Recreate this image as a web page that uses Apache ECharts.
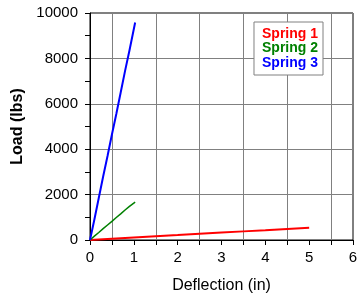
<!DOCTYPE html>
<html><head><meta charset="utf-8">
<script src="https://cdn.jsdelivr.net/npm/echarts@6/dist/echarts.min.js"></script>
<style>html,body{margin:0;padding:0;background:#fff}#c{width:363px;height:298px}</style>
</head><body><div id="c"></div>
<script>
var seriesNames = ['Spring 1', 'Spring 2', 'Spring 3'];
var seriesColors = ['#ff0000', '#008000', '#0000ff'];
var spring1X = [0, 0.5, 1, 1.5, 2, 2.5, 3, 3.5, 4, 4.5, 5];
var spring1Y = [0, 55, 110, 165, 215, 270, 325, 380, 430, 490, 545];
var spring2X = [0, 0.1, 0.2, 0.3, 0.4, 0.5, 0.6, 0.7, 0.8, 0.9, 1.03];
var spring2Y = [0, 170, 330, 500, 660, 820, 990, 1150, 1320, 1480, 1670];
var spring3X = [0, 0.1, 0.2, 0.3, 0.4, 0.5, 0.6, 0.7, 0.8, 0.9, 1.03];
var spring3Y = [0, 900, 1850, 2800, 3700, 4650, 5550, 6500, 7450, 8350, 9580];
var xTicks = [0, 1, 2, 3, 4, 5, 6];
var yTicks = [0, 2000, 4000, 6000, 8000, 10000];

function pairs(xs, ys) { return xs.map(function (x, i) { return [x, ys[i]]; }); }
var seriesData = [pairs(spring1X, spring1Y), pairs(spring2X, spring2Y), pairs(spring3X, spring3Y)];
var widths = [2, 1.5, 2];

var chart = echarts.init(document.getElementById('c'), null, {renderer: 'canvas'});
var font = 'Liberation Sans, Arial, sans-serif';
chart.setOption({
  animation: false,
  grid: {left: 90, right: 10, top: 13, bottom: 58, show: true, borderColor: '#000', borderWidth: 1,
    containLabel: false, outerBoundsMode: 'none'},
  legend: {
    show: true,
    orient: 'vertical',
    right: 40, top: 22,
    icon: 'none',
    itemWidth: 0, itemHeight: 14, itemGap: 0.5,
    backgroundColor: '#fff', borderColor: '#808080', borderWidth: 1,
    padding: [5, 5, 5, 3],
    textStyle: {fontFamily: font, fontSize: 14, fontWeight: 'bold'},
    selectedMode: false,
    data: seriesNames.map(function (n, i) { return {name: n, textStyle: {color: seriesColors[i]}}; })
  },
  xAxis: {
    type: 'value', min: xTicks[0], max: xTicks[xTicks.length - 1], interval: 1,
    name: 'Deflection (in)', nameLocation: 'middle', nameGap: 38,
    nameTextStyle: {fontFamily: font, fontSize: 16, color: '#000'},
    axisLine: {lineStyle: {color: '#000', width: 1}},
    axisTick: {show: true, length: 5, lineStyle: {color: '#000'}},
    minorTick: {show: true, splitNumber: 2, length: 5, lineStyle: {color: '#000'}},
    minorSplitLine: {show: true, lineStyle: {color: '#808080', width: 1}},
    splitLine: {show: false},
    axisLabel: {fontFamily: font, fontSize: 15, color: '#000', margin: 10}
  },
  yAxis: {
    type: 'value', min: yTicks[0], max: yTicks[yTicks.length - 1], interval: 2000,
    name: 'Load (lbs)', nameLocation: 'middle', nameGap: 64,
    nameTextStyle: {fontFamily: font, fontSize: 16, fontWeight: 'bold', color: '#000'},
    axisLine: {show: true, lineStyle: {color: '#000', width: 1}},
    axisTick: {show: true, length: 5, lineStyle: {color: '#000'}},
    minorTick: {show: true, splitNumber: 2, length: 5, lineStyle: {color: '#000'}},
    splitLine: {show: true, lineStyle: {color: '#808080', width: 1}},
    axisLabel: {fontFamily: font, fontSize: 15, color: '#000', margin: 12,
      formatter: function (v) { return yTicks.indexOf(v) >= 0 ? String(v) : ''; }}
  },
  series: seriesNames.map(function (n, i) {
    return {
      name: n, type: 'line', data: seriesData[i], showSymbol: false,
      lineStyle: {color: seriesColors[i], width: widths[i]},
      itemStyle: {color: seriesColors[i]}
    };
  })
});
</script></body></html>
